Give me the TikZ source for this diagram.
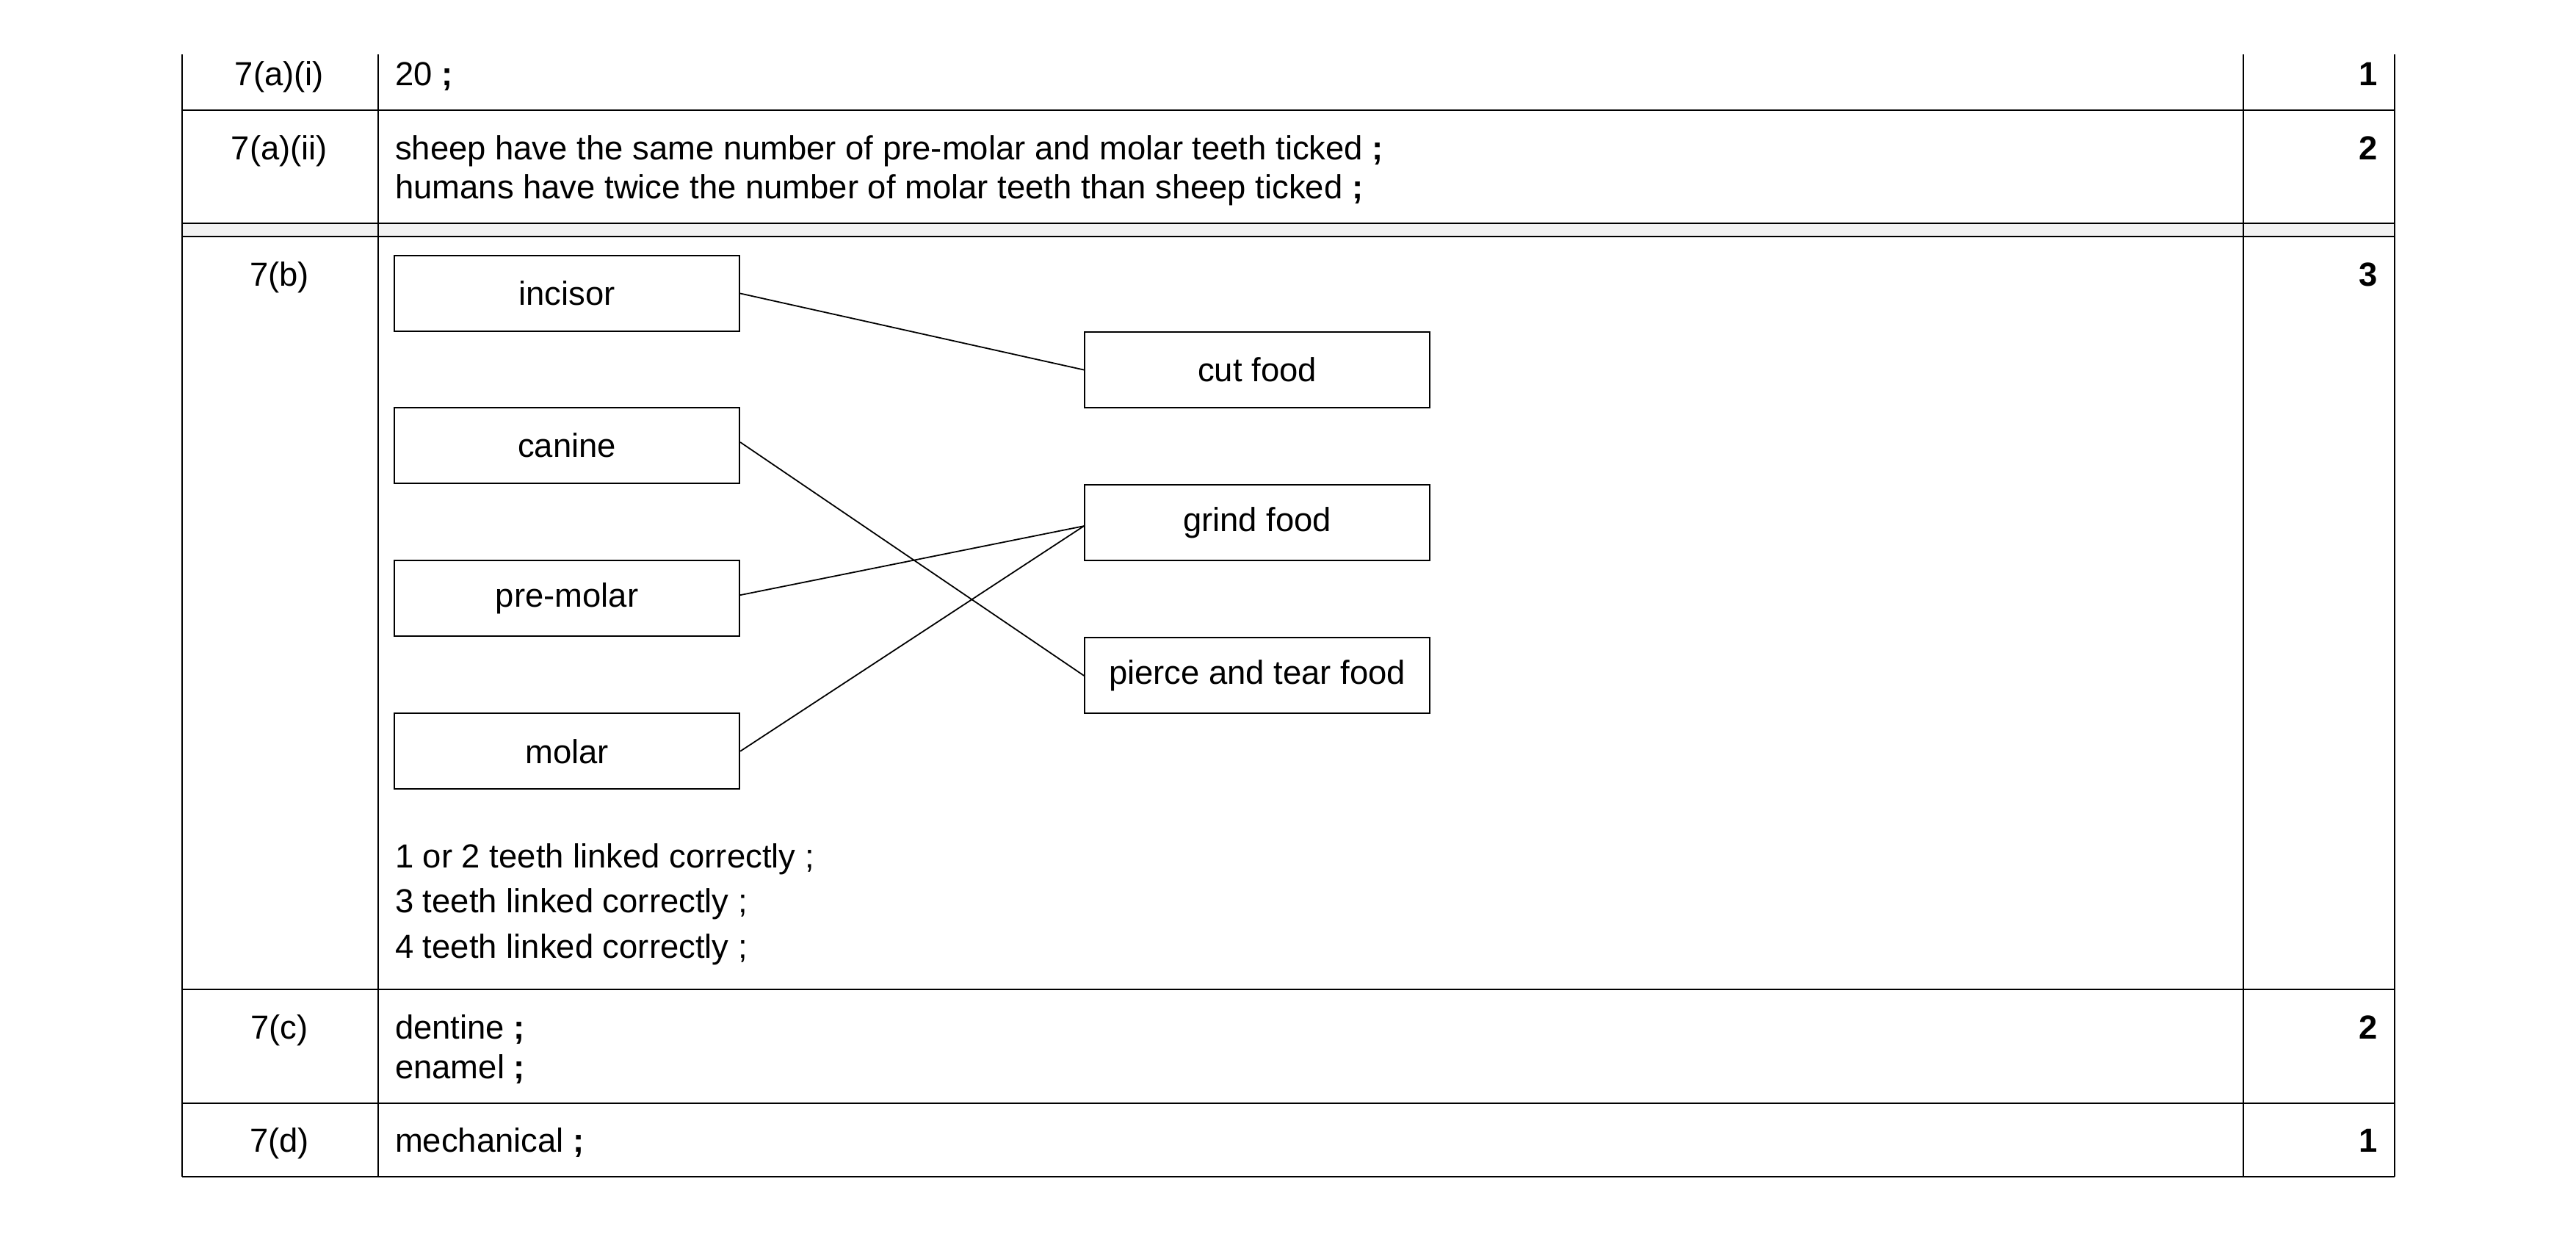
\documentclass[tikz,border=0pt]{standalone}
\usepackage{fontspec}
\setmainfont{Liberation Sans}
\begin{document}
\begin{tikzpicture}[x=1pt,y=-1pt,line width=0.9pt,
  txt/.style={anchor=base west,inner sep=0pt,font=\fontsize{20.3}{24}\selectfont},
  lbl/.style={anchor=base,inner sep=0pt,font=\fontsize{20.3}{24}\selectfont},
  mk/.style={anchor=base east,inner sep=0pt,font=\bfseries\fontsize{20.3}{24}\selectfont},
  tbox/.style={draw,minimum width=210pt,minimum height=46pt,inner sep=0pt,font=\fontsize{20.3}{24}\selectfont}]
\useasboundingbox (0,0) rectangle (1567.5,750.6);
\fill[gray!10] (111,136) rectangle (1457,144);
\foreach \y in {67,136,144,602,671,716} \draw (111,\y) -- (1457,\y);
\foreach \x in {111,230,1365,1457} \draw (\x,33) -- (\x,716);
% row labels
\node[lbl] (r1) at (170,52) {7(a)(i)};
\node[lbl] (r2) at (170,97) {7(a)(ii)};
\node[lbl] (r3) at (170,174) {7(b)};
\node[lbl] (r4) at (170,632) {7(c)};
\node[lbl] (r5) at (170,701) {7(d)};
% answers
\node[txt] (a1) at (240,52) {20 \textbf{;}};
\node[txt] (a2) at (240,97) {sheep have the same number of pre-molar and molar teeth ticked \textbf{;}};
\node[txt] (a3) at (240,121) {humans have twice the number of molar teeth than sheep ticked \textbf{;}};
\node[txt] (c1) at (240,528) {1 or 2 teeth linked correctly ;};
\node[txt] (c2) at (240,555) {3 teeth linked correctly ;};
\node[txt] (c3) at (240,583) {4 teeth linked correctly ;};
\node[txt] (a4) at (240,632) {dentine \textbf{;}};
\node[txt] (a5) at (240,656) {enamel \textbf{;}};
\node[txt] (a6) at (240,701) {mechanical \textbf{;}};
% marks
\node[mk] (m1) at (1447,52) {1};
\node[mk] (m2) at (1447,97) {2};
\node[mk] (m3) at (1447,174) {3};
\node[mk] (m4) at (1447,632) {2};
\node[mk] (m5) at (1447,701) {1};
% boxes
\node[tbox] (inc) at (345,178.5) {incisor};
\node[tbox] (can) at (345,271) {canine};
\node[tbox] (pre) at (345,364) {pre-molar};
\node[tbox] (mol) at (345,457) {molar};
\node[tbox] (cut) at (765,225) {cut food};
\node[tbox] (gri) at (765,318) {grind food};
\node[tbox] (pie) at (765,411) {pierce and tear food};
\draw[line width=0.8pt] (inc.east) -- (cut.west);
\draw[line width=0.8pt] ([yshift=2pt]can.east) -- (pie.west);
\draw[line width=0.8pt] ([yshift=2pt]pre.east) -- ([yshift=-2pt]gri.west);
\draw[line width=0.8pt] (mol.east) -- ([yshift=-2pt]gri.west);
\end{tikzpicture}
\end{document}
